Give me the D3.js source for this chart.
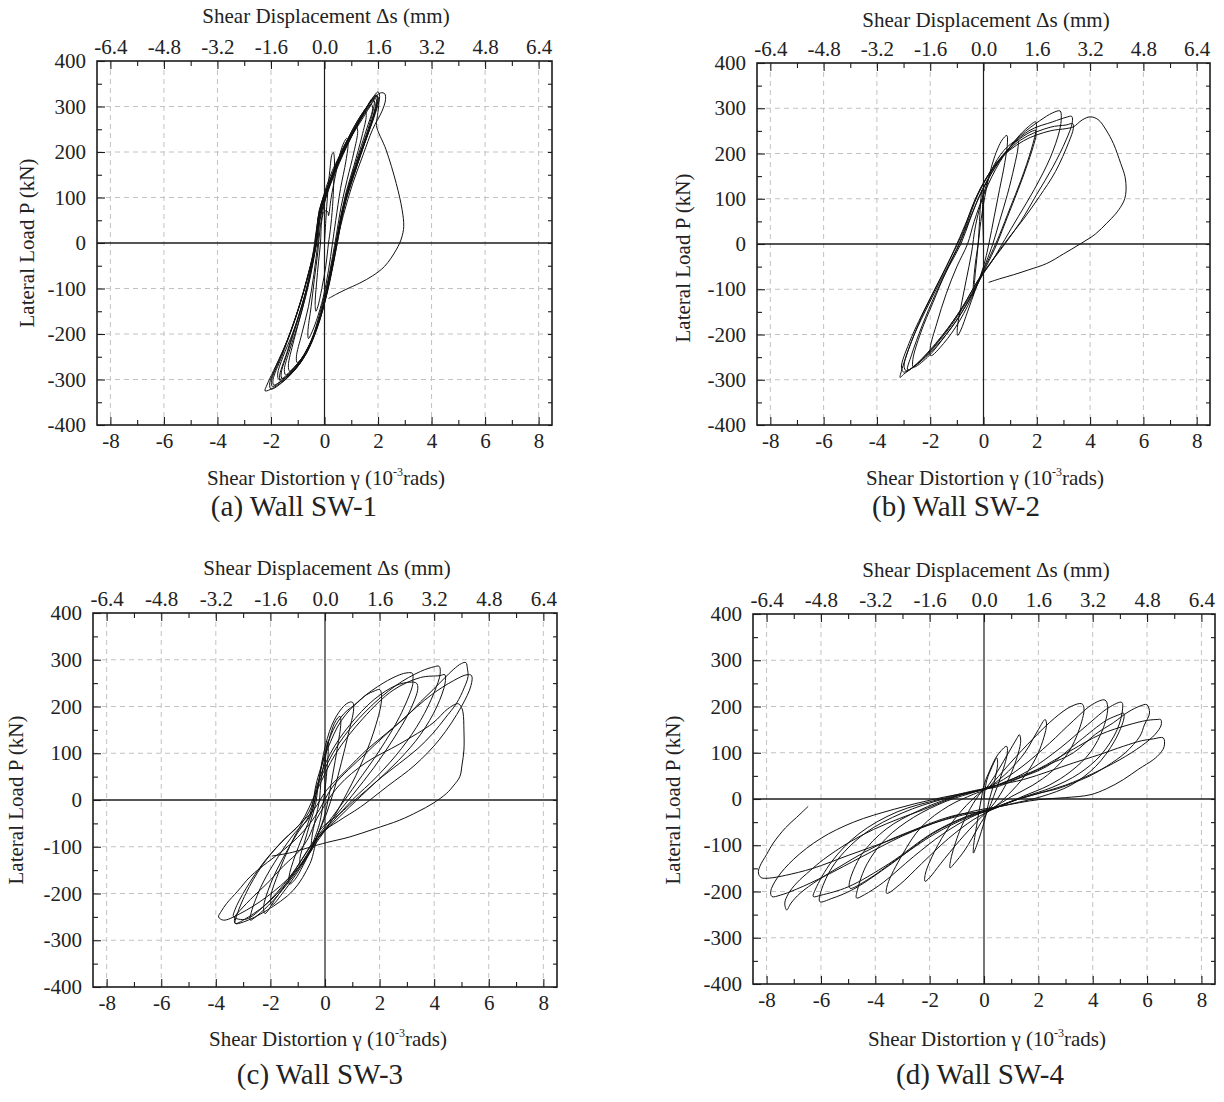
<!DOCTYPE html>
<html><head><meta charset="utf-8">
<script src="https://cdn.jsdelivr.net/npm/d3@7"></script>
<style>
body{margin:0;background:#fff}
text{font-family:"Liberation Serif","Times New Roman",serif;fill:#222}
</style>
</head><body>
<svg id="chart" width="1224" height="1102"></svg>
<script>
// ---------- axis values ----------
const gammaTicks = [-8,-6,-4,-2,0,2,4,6,8];
const gammaMinor = [-7,-5,-3,-1,1,3,5,7];
const shearTicks = [-6.4,-4.8,-3.2,-1.6,0,1.6,3.2,4.8,6.4];
const shearMinor = [-5.6,-4.0,-2.4,-0.8,0.8,2.4,4.0,5.6];
const loadTicks = [-400,-300,-200,-100,0,100,200,300,400];
const loadMinor = [-350,-250,-150,-50,50,150,250,350];
const gammaDomain = [-8.5, 8.5];
const loadDomain = [-400, 400];
const mmPerGamma = 0.8;

const topTitle = "Shear Displacement \u0394s (mm)";
const yTitle = "Lateral Load P (kN)";
const xTitleHead = "Shear Distortion \u03b3 (10";
const xTitleSup = "-3";
const xTitleTail = "rads)";
const captions = ["(a) Wall SW-1","(b) Wall SW-2","(c) Wall SW-3","(d) Wall SW-4"];

// ---------- data: [shear distortion (1e-3 rad), lateral load (kN)] ----------
const sw1 = [
[0,0],[0.05,50],[0.12,110],[0.2,160],[0.28,195],[0.33,199],[0.37,185],[0.35,140],[0.3,80],[0.22,30],[0.15,0],[0.05,-50],[-0.1,-100],[-0.25,-140],[-0.32,-150],[-0.35,-135],[-0.3,-90],[-0.22,-40],[-0.15,0],
[-0.1,50],[0.0,70],[0.12,69],[0.15,60],[0.25,100],[0.45,160],[0.65,210],[0.83,230],[0.88,220],[0.8,180],[0.6,120],[0.42,50],[0.3,0],[0.15,-60],[-0.05,-120],[-0.3,-170],[-0.5,-200],[-0.6,-210],[-0.62,-195],[-0.5,-140],[-0.38,-80],[-0.25,-20],
[-0.15,40],[0.05,100],[0.35,160],[0.7,210],[1.0,240],[1.2,255],[1.24,245],[1.1,200],[0.85,140],[0.62,80],[0.45,20],[0.3,-30],[0.1,-90],[-0.2,-160],[-0.5,-215],[-0.8,-250],[-1.02,-263],[-1.05,-250],[-0.85,-200],[-0.6,-140],[-0.4,-70],[-0.25,0],
[-0.15,60],[0.1,110],[0.5,175],[0.95,230],[1.3,270],[1.52,290],[1.56,280],[1.4,235],[1.1,170],[0.8,110],[0.55,40],[0.38,-20],[0.15,-90],[-0.2,-170],[-0.6,-230],[-1.0,-265],[-1.3,-282],[-1.35,-270],[-1.15,-215],[-0.85,-150],[-0.55,-80],[-0.3,0],
[-0.15,70],[0.15,120],[0.6,185],[1.1,245],[1.5,290],[1.8,318],[1.86,310],[1.7,265],[1.4,210],[1.05,150],[0.7,80],[0.45,0],[0.2,-80],[-0.2,-170],[-0.7,-245],[-1.2,-285],[-1.62,-305],[-1.68,-295],[-1.4,-240],[-1.05,-175],[-0.65,-95],[-0.35,-10],
[-0.1,70],[0.2,125],[0.7,195],[1.2,255],[1.6,295],[1.85,312],[1.9,303],[1.72,260],[1.42,205],[1.08,145],[0.72,75],[0.48,0],[0.22,-75],[-0.15,-165],[-0.65,-240],[-1.15,-280],[-1.58,-298],[-1.62,-288],[-1.35,-235],[-1.0,-170],[-0.62,-90],[-0.33,-5],
[-0.2,60],[0.15,125],[0.65,195],[1.2,260],[1.65,305],[2.0,332],[2.06,322],[1.9,285],[1.6,235],[1.25,180],[0.85,110],[0.55,30],[0.3,-50],[0.0,-130],[-0.45,-210],[-1.0,-270],[-1.55,-305],[-2.0,-321],[-2.05,-310],[-1.8,-270],[-1.4,-215],[-0.95,-140],[-0.6,-70],[-0.3,0],
[-0.25,50],[0.1,120],[0.6,190],[1.15,255],[1.6,300],[1.92,325],[1.97,316],[1.8,275],[1.5,225],[1.15,165],[0.8,100],[0.5,20],[0.25,-55],[-0.05,-135],[-0.5,-215],[-1.05,-270],[-1.6,-303],[-1.95,-315],[-1.98,-302],[-1.7,-260],[-1.3,-200],[-0.9,-130],[-0.55,-55],[-0.3,0],
[-0.2,70],[0.2,135],[0.7,205],[1.3,270],[1.8,315],[2.1,330],[2.25,328],[2.28,315],[2.15,290],[1.8,250],[1.45,195],[1.05,130],[0.7,60],[0.45,0],[0.2,-70],[-0.15,-160],[-0.65,-235],[-1.3,-290],[-1.9,-318],[-2.22,-325],[-2.15,-312],[-1.9,-280],[-1.5,-230],[-1.05,-160],[-0.65,-80],[-0.35,0],
[-0.2,70],[0.15,130],[0.65,200],[1.2,265],[1.65,305],[1.95,325],[1.99,312],[1.8,270],[1.5,220],[1.15,160],[0.75,90],[0.5,15],[0.25,-60],[-0.05,-140],[-0.5,-220],[-1.05,-275],[-1.55,-300],[-1.9,-312],[-1.92,-300],[-1.6,-250],[-1.2,-185],[-0.8,-110],[-0.45,-30],
[-0.3,30],[-0.1,90],[0.3,160],[0.8,215],[1.3,262],[1.7,300],[1.9,318],[1.95,308],[1.75,262],[1.45,212],[1.1,150],[0.78,90],[0.55,25],[0.35,-40],[0.1,-110],[-0.3,-190],[-0.8,-250],[-1.3,-285],[-1.7,-300],[-1.75,-288],[-1.55,-250],[-1.2,-200],[-0.85,-140],[-0.55,-70],[-0.3,0],
[-0.2,60],[0.1,120],[0.55,180],[1.05,240],[1.5,285],[1.75,305],[1.8,296],[1.6,255],[1.3,200],[0.95,135],[0.62,60],[0.4,-10],[0.12,-95],[-0.25,-180],[-0.75,-245],[-1.25,-280],[-1.45,-290],[-1.5,-278],[-1.3,-235],[-1.0,-180],[-0.7,-115],[-0.45,-45],
[-0.25,40],[0.1,120],[0.6,195],[1.15,260],[1.6,300],[1.9,320],[2.0,322],[2.03,308],[1.98,280],[1.94,258],[2.3,205],[2.68,131],[2.9,73],[2.96,36],[2.88,11],[2.68,-15],[2.25,-51],[1.8,-72],[1.32,-88],[0.8,-102],[0.46,-112],[0.15,-122]
];

const sw2 = [
[0,0],[-0.03,60],[-0.06,119],[-0.1,100],[-0.15,50],[-0.2,0],[-0.3,-60],[-0.39,-114],[-0.38,-90],[-0.3,-40],[-0.2,0],
[-0.1,50],[0.1,120],[0.4,190],[0.7,230],[0.875,240],[0.9,225],[0.8,180],[0.6,120],[0.4,60],[0.2,0],[0.0,-50],[-0.3,-100],[-0.6,-150],[-0.85,-190],[-0.97,-202],[-0.98,-185],[-0.85,-140],[-0.65,-80],[-0.45,-20],
[-0.3,40],[0.0,110],[0.4,175],[0.9,215],[1.29,229],[1.3,215],[1.15,170],[0.9,110],[0.6,50],[0.35,0],[0.1,-40],[-0.3,-100],[-0.9,-170],[-1.5,-220],[-1.98,-247],[-2.0,-230],[-1.75,-175],[-1.4,-110],[-1.0,-50],[-0.6,0],
[-0.35,50],[0.05,115],[0.6,180],[1.2,230],[1.7,260],[1.96,270],[1.98,255],[1.8,210],[1.4,140],[1.0,80],[0.6,20],[0.3,-20],[-0.1,-70],[-0.7,-140],[-1.4,-200],[-2.1,-250],[-2.63,-272],[-2.65,-255],[-2.35,-195],[-1.9,-130],[-1.4,-60],[-0.9,0],
[-0.55,50],[-0.15,105],[0.45,170],[1.2,225],[1.96,251],[1.97,240],[1.7,185],[1.3,120],[0.9,60],[0.5,0],[0.1,-50],[-0.5,-120],[-1.2,-185],[-2.0,-240],[-2.7,-275],[-2.85,-278],[-2.7,-245],[-2.3,-180],[-1.8,-110],[-1.3,-50],[-0.85,0],
[-0.5,55],[-0.05,120],[0.6,185],[1.4,240],[2.1,272],[2.6,290],[2.875,294],[2.92,280],[2.85,250],[2.5,190],[1.9,120],[1.3,60],[0.8,10],[0.3,-40],[-0.2,-80],[-0.9,-150],[-1.8,-220],[-2.6,-270],[-3.0,-288],[-3.13,-295],[-3.05,-275],[-2.7,-215],[-2.2,-145],[-1.6,-75],[-1.0,0],
[-0.6,55],[-0.1,125],[0.7,195],[1.7,250],[2.6,270],[3.1,280],[3.31,282],[3.33,268],[3.1,230],[2.6,170],[2.0,110],[1.4,50],[0.8,0],[0.25,-43],[-0.12,-72],[-0.8,-140],[-1.7,-215],[-2.5,-265],[-3.0,-283],[-3.08,-272],[-2.8,-220],[-2.3,-155],[-1.7,-85],[-1.1,-15],
[-0.75,30],[-0.3,100],[0.4,170],[1.4,230],[2.5,258],[3.1,263],[3.35,266],[3.37,255],[3.2,225],[2.7,160],[2.1,105],[1.5,55],[0.9,10],[0.4,-30],[0.0,-65],[-0.6,-125],[-1.4,-195],[-2.3,-255],[-2.9,-280],[-2.98,-270],[-2.7,-215],[-2.2,-150],[-1.6,-80],[-1.0,-10],
[-0.65,40],[-0.2,110],[0.5,180],[1.5,228],[2.5,250],[3.1,255],[3.375,259],[3.7,274],[4.0,281],[4.3,275],[4.6,252],[4.875,222],[5.15,178],[5.31,149],[5.35,119],[5.3,100],[5.19,86],[4.95,66],[4.625,46],[4.2,22],[3.625,0],[3.0,-22],[2.375,-43],[1.7,-57],[1.125,-68],[0.6,-77],[0.19,-85]
];

const sw3 = [
[0,0],[0.0,60],[0.05,110],[0.1,125],[0.12,110],[0.05,50],[-0.05,0],[-0.2,-50],[-0.4,-85],[-0.5,-100],[-0.48,-80],[-0.35,-40],[-0.2,0],
[-0.15,40],[0.0,90],[0.2,140],[0.4,170],[0.55,179],[0.58,165],[0.45,110],[0.3,60],[0.15,10],[-0.05,-40],[-0.35,-85],[-0.65,-120],[-0.9,-140],[-0.92,-125],[-0.75,-90],[-0.55,-50],[-0.35,-10],
[-0.25,30],[-0.05,100],[0.25,160],[0.6,195],[0.85,208],[1.01,209],[1.05,195],[0.85,140],[0.6,80],[0.35,25],[0.05,-30],[-0.35,-85],[-0.8,-140],[-1.1,-170],[-1.3,-180],[-1.32,-165],[-1.1,-120],[-0.8,-75],[-0.5,-30],
[-0.3,20],[-0.05,90],[0.3,150],[0.7,185],[1.16,207],[1.52,225],[1.8,233],[2.01,236],[2.07,214],[1.77,143],[1.28,71],[0.67,0],[0.18,-50],[-0.3,-90],[-0.9,-145],[-1.5,-195],[-1.95,-225],[-1.98,-205],[-1.7,-155],[-1.3,-100],[-0.9,-55],[-0.5,-15],
[-0.3,40],[0.1,110],[0.6,170],[1.28,214],[2.13,250],[2.74,268],[3.0,272],[3.2,271],[3.22,255],[3.2,243],[2.74,179],[2.01,107],[1.16,36],[0.55,-14],[0.0,-57],[-0.5,-95],[-1.2,-160],[-1.8,-210],[-2.2,-243],[-2.25,-230],[-2.0,-180],[-1.5,-120],[-1.0,-70],[-0.55,-30],
[-0.3,30],[0.2,100],[0.9,160],[1.8,215],[2.6,245],[3.1,252],[3.35,250],[3.4,238],[3.1,190],[2.5,130],[1.8,70],[1.0,10],[0.3,-40],[-0.3,-85],[-1.0,-150],[-1.9,-215],[-2.5,-248],[-2.74,-257],[-2.7,-240],[-2.3,-180],[-1.7,-120],[-1.1,-70],[-0.55,-35],
[-0.2,40],[0.5,120],[1.5,190],[2.6,245],[3.5,275],[4.0,285],[4.18,286],[4.22,270],[4.0,230],[3.5,170],[2.8,110],[1.9,50],[1.0,0],[0.3,-45],[-0.3,-85],[-1.1,-155],[-2.0,-215],[-2.8,-250],[-3.29,-264],[-3.25,-250],[-2.9,-200],[-2.3,-140],[-1.6,-90],[-0.9,-50],
[-0.3,20],[0.4,100],[1.4,175],[2.5,235],[3.5,262],[4.2,266],[4.39,268],[4.4,250],[4.1,200],[3.5,140],[2.7,85],[1.8,35],[0.9,-15],[0.2,-55],[-0.4,-90],[-1.3,-165],[-2.2,-225],[-2.9,-255],[-3.35,-250],[-3.3,-235],[-2.9,-190],[-2.2,-130],[-1.5,-85],[-0.8,-45],
[-0.4,-20],[0.06,21],[0.8,65],[1.52,107],[2.3,145],[2.99,179],[3.5,210],[3.96,236],[4.4,262],[4.7,279],[5.0,292],[5.16,294],[5.22,280],[5.24,264],[5.1,240],[4.82,207],[4.4,175],[3.96,143],[3.4,110],[2.74,79],[2.1,50],[1.52,21],[1.0,-5],[0.55,-29],[-0.18,-64],[-0.43,-100],[-1.16,-157],[-2.13,-207],[-3.11,-243],[-3.72,-257],[-3.9,-250],[-3.8,-238],[-3.6,-221],[-3.2,-195],[-2.74,-164],[-2.1,-133],[-1.52,-107],[-1.0,-80],[-0.55,-50],
[-0.2,-20],[0.3,30],[1.5,100],[2.8,170],[3.9,225],[4.7,255],[5.2,268],[5.37,266],[5.35,245],[5.0,200],[4.2,130],[3.3,75],[2.3,30],[1.3,-15],[0.5,-45],[-0.2,-75],[-0.55,-136],[-1.16,-193],[-2.13,-236],[-2.99,-261],[-3.29,-264],[-3.3,-250],[-3.11,-236],[-2.6,-205],[-2.13,-179],[-1.5,-140],[-0.91,-107],[-0.6,-80],
[-0.3,-40],[0.5,30],[1.5,80],[2.74,120],[3.96,165],[4.5,195],[4.88,206],[5.0,198],[5.06,186],[5.09,150],[5.09,107],[5.02,75],[4.94,50],[4.7,30],[4.45,14],[3.96,-7],[3.4,-25],[2.74,-43],[1.8,-62],[0.91,-79],[0.06,-91],[-0.5,-100],[-1.2,-112],[-1.95,-120]
];

const sw4 = [
[0,0],[0.1,40],[0.3,70],[0.47,89],[0.5,75],[0.35,30],[0.2,0],[0.05,-40],[-0.15,-80],[-0.3,-105],[-0.39,-117],[-0.38,-100],[-0.25,-50],[-0.1,0],
[0.0,30],[0.2,60],[0.5,95],[0.83,114],[0.86,100],[0.6,45],[0.35,5],[0.15,-25],[-0.2,-60],[-0.7,-110],[-1.1,-140],[-1.25,-149],[-1.22,-130],[-0.9,-70],[-0.5,-20],[-0.1,15],
[0.1,25],[0.5,60],[0.9,100],[1.2,130],[1.3,139],[1.35,125],[1.1,70],[0.7,20],[0.3,-15],[-0.2,-45],[-0.9,-90],[-1.6,-140],[-2.0,-170],[-2.17,-178],[-2.15,-160],[-1.7,-100],[-1.1,-45],[-0.5,-5],[0.0,20],
[0.3,30],[0.9,60],[1.5,100],[2.0,150],[2.25,172],[2.3,160],[2.0,100],[1.5,50],[0.9,10],[0.3,-22],[-0.4,-45],[-1.3,-85],[-2.3,-140],[-3.1,-185],[-3.58,-204],[-3.55,-185],[-3.0,-120],[-2.3,-60],[-1.3,-15],[-0.4,10],[0.1,22],
[0.4,40],[1.0,80],[1.8,130],[2.6,175],[3.2,200],[3.6,206],[3.68,195],[3.5,150],[3.1,100],[2.5,60],[1.8,30],[1.0,5],[0.3,-20],[-0.5,-40],[-1.5,-75],[-2.6,-125],[-3.7,-180],[-4.4,-207],[-4.69,-214],[-4.65,-195],[-4.3,-140],[-3.6,-85],[-2.6,-40],[-1.4,-5],[-0.2,18],
[0.5,35],[1.4,70],[2.4,120],[3.3,170],[4.0,205],[4.45,214],[4.55,200],[4.4,155],[3.9,100],[3.2,60],[2.4,30],[1.4,5],[0.4,-20],[-0.6,-40],[-1.8,-75],[-3.2,-130],[-4.3,-175],[-4.93,-193],[-4.95,-180],[-4.5,-120],[-3.6,-65],[-2.4,-25],[-1.1,5],[0.1,22],
[0.6,32],[1.6,60],[2.8,110],[3.8,160],[4.6,198],[5.07,209],[5.1,195],[4.9,150],[4.3,95],[3.5,55],[2.5,25],[1.4,3],[0.4,-20],[-0.6,-38],[-1.9,-75],[-3.4,-140],[-4.8,-195],[-5.6,-215],[-6.04,-222],[-6.0,-200],[-5.5,-140],[-4.4,-75],[-3.0,-30],[-1.5,0],[-0.2,18],
[0.9,38],[2.3,70],[3.5,125],[4.5,170],[5.0,183],[5.13,186],[5.15,175],[4.8,125],[4.1,70],[3.2,30],[2.1,5],[0.9,-12],[-0.3,-30],[-1.8,-70],[-3.5,-140],[-5.0,-190],[-6.0,-208],[-6.28,-211],[-6.2,-195],[-5.6,-135],[-4.6,-75],[-3.2,-28],[-1.6,0],[-0.2,20],
[0.4,25],[1.45,49],[2.4,75],[3.29,100],[4.1,140],[4.76,165],[5.3,188],[5.74,201],[5.99,204],[6.09,186],[5.9,160],[5.74,136],[5.2,100],[4.52,71],[3.9,50],[3.29,35],[2.7,22],[2.06,13],[1.4,2],[0.83,-9],[0.1,-27],[-0.8,-32],[-1.62,-45],[-2.5,-65],[-3.46,-88],[-4.4,-115],[-5.3,-146],[-6.1,-175],[-6.77,-204],[-7.1,-225],[-7.26,-240],[-7.33,-225],[-7.2,-205],[-6.9,-182],[-6.4,-155],[-5.91,-131],[-5.0,-95],[-4.07,-66],[-3.1,-42],[-2.23,-23],[-1.0,6],[-0.15,20],
[0.5,30],[1.45,42],[2.4,60],[3.29,78],[4.2,95],[5.13,114],[5.8,126],[6.23,130],[6.6,132],[6.63,114],[6.5,100],[6.23,85],[5.7,65],[5.13,42],[4.5,22],[3.9,9],[3.0,3],[2.06,-1],[1.3,-8],[0.59,-16],[-0.3,-25],[-1.5,-45],[-3.0,-80],[-4.5,-125],[-5.8,-165],[-6.9,-195],[-7.5,-208],[-7.8,-211],[-7.85,-200],[-7.6,-170],[-7.0,-130],[-6.0,-85],[-4.8,-50],[-3.3,-22],[-1.8,0],[-0.5,15],[0.1,22],
[0.9,40],[2.0,65],[3.2,105],[4.3,140],[5.3,160],[6.0,170],[6.4,172],[6.5,172],[6.52,160],[6.3,140],[5.8,115],[5.0,85],[4.0,55],[3.0,30],[2.0,12],[1.0,-5],[0.2,-22],[-0.8,-35],[-2.0,-55],[-3.5,-90],[-5.0,-122],[-6.3,-150],[-7.3,-165],[-7.9,-171],[-8.2,-170],[-8.3,-160],[-8.25,-146],[-8.0,-120],[-7.75,-95],[-7.3,-62],[-6.9,-40],[-6.47,-16]
];

const series = [sw1, sw2, sw3, sw4];

// ---------- layout (pixels) ----------
const layout = [
 {l:97,  r:552,  t:61,  b:425, ttx:326, tty:23,  btx:326, bty:485,  ylx:27,  yly:243, cx:294, cy:516},
 {l:757, r:1210, t:63,  b:425, ttx:986, tty:27,  btx:985, bty:485,  ylx:683, yly:258, cx:956, cy:516},
 {l:93,  r:557,  t:613, b:987, ttx:327, tty:575, btx:328, bty:1046, ylx:16,  yly:800, cx:320, cy:1084},
 {l:753, r:1215, t:614, b:984, ttx:986, tty:577, btx:987, bty:1046, ylx:673, yly:800, cx:980, cy:1084}
];

const svg = d3.select("#chart");
const FONT = '"Liberation Serif","Times New Roman",serif';
const INK = "#1c1c1c";

series.forEach((data, i) => {
  const L = layout[i];
  const x = d3.scaleLinear().domain(gammaDomain).range([L.l, L.r]);
  const xTop = d3.scaleLinear().domain(gammaDomain.map(v => v * mmPerGamma)).range([L.l, L.r]);
  const y = d3.scaleLinear().domain(loadDomain).range([L.b, L.t]);
  const g = svg.append("g");

  // grid
  g.append("g").selectAll("line").data(gammaTicks.filter(v => v !== 0)).join("line")
    .attr("x1", d => x(d)).attr("x2", d => x(d)).attr("y1", L.t).attr("y2", L.b)
    .attr("stroke", "#c2c2c2").attr("stroke-width", 1).attr("stroke-dasharray", "5,4");
  g.append("g").selectAll("line").data(loadTicks.filter(v => v !== 0 && Math.abs(v) < 400)).join("line")
    .attr("x1", L.l).attr("x2", L.r).attr("y1", d => y(d)).attr("y2", d => y(d))
    .attr("stroke", "#c2c2c2").attr("stroke-width", 1).attr("stroke-dasharray", "5,4");

  // zero lines
  g.append("line").attr("x1", x(0)).attr("x2", x(0)).attr("y1", L.t).attr("y2", L.b)
    .attr("stroke", INK).attr("stroke-width", 1.2);
  g.append("line").attr("x1", L.l).attr("x2", L.r).attr("y1", y(0)).attr("y2", y(0))
    .attr("stroke", INK).attr("stroke-width", 1.4);

  // hysteresis curve
  const line = d3.line().x(d => x(d[0])).y(d => y(d[1])).curve(d3.curveCatmullRom.alpha(0.5));
  g.append("path").datum(data).attr("d", line)
    .attr("fill", "none").attr("stroke", "#111").attr("stroke-width", 1.0).attr("stroke-linejoin", "round");

  // axes
  const put = (axis, tr) => {
    const a = g.append("g").attr("transform", tr).call(axis);
    a.select(".domain").remove();
    a.attr("font-family", FONT).attr("font-size", 21).attr("color", INK);
    a.selectAll("text").attr("fill", INK);
    a.selectAll("line").attr("stroke-width", 1.1);
    return a;
  };
  put(d3.axisBottom(x).tickValues(gammaTicks).tickSize(-8).tickPadding(8).tickFormat(d => String(d)), `translate(0,${L.b})`);
  put(d3.axisBottom(x).tickValues(gammaMinor).tickSize(-5).tickFormat(""), `translate(0,${L.b})`);
  put(d3.axisTop(xTop).tickValues(shearTicks).tickSize(-8).tickPadding(7).tickFormat(d => d.toFixed(1)), `translate(0,${L.t})`);
  put(d3.axisTop(xTop).tickValues(shearMinor).tickSize(-5).tickFormat(""), `translate(0,${L.t})`);
  put(d3.axisLeft(y).tickValues(loadTicks).tickSize(-8).tickPadding(11).tickFormat(d => String(d)), `translate(${L.l},0)`);
  put(d3.axisLeft(y).tickValues(loadMinor).tickSize(-5).tickFormat(""), `translate(${L.l},0)`);
  put(d3.axisRight(y).tickValues(loadTicks.concat(loadMinor)).tickSize(-4).tickFormat(""), `translate(${L.r},0)`);

  // frame
  g.append("rect").attr("x", L.l).attr("y", L.t).attr("width", L.r - L.l).attr("height", L.b - L.t)
    .attr("fill", "none").attr("stroke", INK).attr("stroke-width", 1.6);

  // titles
  g.append("text").attr("x", L.ttx).attr("y", L.tty).attr("text-anchor", "middle")
    .attr("font-size", 21).text(topTitle);
  const bt = g.append("text").attr("x", L.btx).attr("y", L.bty).attr("text-anchor", "middle").attr("font-size", 21);
  bt.append("tspan").text(xTitleHead);
  bt.append("tspan").attr("font-size", 12).attr("dy", -9).text(xTitleSup);
  bt.append("tspan").attr("dy", 9).text(xTitleTail);
  g.append("text").attr("transform", `translate(${L.ylx},${L.yly}) rotate(-90)`)
    .attr("text-anchor", "middle").attr("dominant-baseline", "central").attr("font-size", 21).text(yTitle);
  g.append("text").attr("x", L.cx).attr("y", L.cy).attr("text-anchor", "middle")
    .attr("font-size", 29).text(captions[i]);
});
</script>
</body></html>
